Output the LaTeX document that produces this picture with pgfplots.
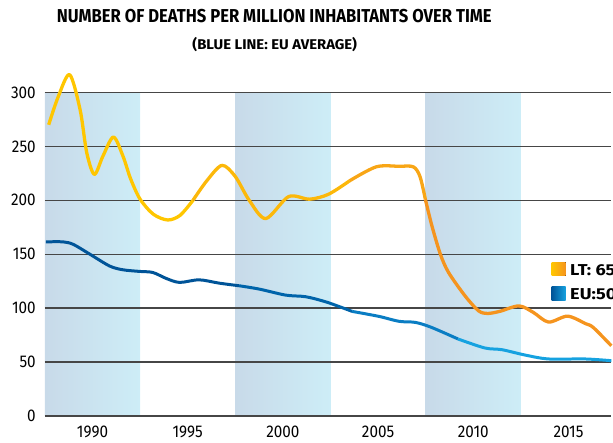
\documentclass[border=0pt]{standalone}
\usepackage{fontspec}
\setmainfont{Fira Sans}
\newfontfamily\tickfont{Fira Sans}[FakeStretch=0.9]
\newfontfamily\legfont{Fira Sans}[FakeStretch=1.15]
\usepackage{graphicx}
\usepackage{pgfplots}
\pgfplotsset{compat=1.18}
\definecolor{LTa}{RGB}{255,198,0}
\definecolor{LTb}{RGB}{252,184,10}
\definecolor{LTc}{RGB}{248,166,22}
\definecolor{LTd}{RGB}{245,148,30}
\definecolor{EUa}{RGB}{0,84,152}
\definecolor{EUb}{RGB}{0,100,170}
\definecolor{EUc}{RGB}{10,125,195}
\definecolor{EUd}{RGB}{22,162,224}
\definecolor{bandL}{RGB}{200,218,233}
\definecolor{bandR}{RGB}{205,237,247}
\definecolor{gridc}{RGB}{70,70,70}
\begin{document}
\begin{tikzpicture}
\begin{axis}[
  at={(0,0)}, anchor=south west,
  scale only axis, width=568bp, height=324.3bp,
  xmin=1987.5, xmax=2017.25, ymin=0, ymax=300,
  xtick={1990,1995,...,2015}, xticklabels={1990,1995,2000,2005,2010,2015},
  ytick={0,50,...,300}, yticklabels={0,50,100,150,200,250,300},
  axis line style={draw=none}, major tick length=0pt,
  ymajorgrids, grid style={gridc, line width=1.3bp},
  tick label style={font=\tickfont\fontsize{17bp}{17bp}\selectfont},
  yticklabel style={anchor=east, inner sep=0pt, xshift=-9bp},
  xticklabel style={anchor=north, inner sep=0pt, yshift=-10bp},
  clip=false, set layers,
  every axis plot/.append style={line cap=butt, line join=round},
]
\begin{pgfonlayer}{axis background}
\fill[left color=bandL, right color=bandR] (axis cs:1987.5,0) rectangle (axis cs:1992.5,300);
\fill[left color=bandL, right color=bandR] (axis cs:1997.5,0) rectangle (axis cs:2002.5,300);
\fill[left color=bandL, right color=bandR] (axis cs:2007.5,0) rectangle (axis cs:2012.5,300);
\end{pgfonlayer}
% EU average
\addplot[EUa, line width=3bp, smooth] coordinates {
(1987.55,161.4) (1988.46,161.4) (1989.0,159) (1989.86,150) (1990.9,139) (1991.6,135.5)
(1992.47,134) (1993.17,133) (1993.87,127.5) (1994.57,123.8) (1995.6,126.2) (1996.66,123.1)
(1997.7,120.7)};
\addplot[EUb, line width=3bp, smooth] coordinates {
(1997.7,120.7) (1998.76,117.6) (2000.15,112) (2001.2,110.5) (2002.3,105.5) (2003.64,96.9)};
\addplot[EUc, line width=3bp, smooth] coordinates {
(2003.64,96.9) (2005.04,92.3) (2006.1,87.7) (2006.96,86.7) (2007.8,82.1) (2009.2,71.3)};
\addplot[EUd, line width=3bp, smooth] coordinates {
(2009.2,71.3) (2010.6,63) (2011.5,61.4) (2012.7,56.5) (2013.94,52.8) (2015.86,52.8) (2017.25,51.2)};
% LT
\addplot[LTa, line width=3.3bp, smooth] coordinates {
(1987.7,270) (1988.2,296) (1988.8,316.5) (1989.35,284) (1989.7,244) (1990.1,224)
(1990.55,241) (1991.1,258.6) (1991.6,241) (1992.0,220) (1992.5,201) (1993.2,187)
(1993.95,181.7) (1994.6,186) (1995.28,200)};
\addplot[LTb, line width=3.3bp, smooth] coordinates {
(1995.28,200) (1996.0,218) (1996.8,232.4) (1997.5,222) (1998.23,200) (1999.1,183)
(2000.3,203.4) (2001.4,201) (2002.4,205.6) (2003.5,218)};
\addplot[LTc, line width=3.3bp, smooth] coordinates {
(2003.5,218) (2004.9,231) (2006.1,231.5) (2006.85,231) (2007.2,222) (2007.48,201)};
\addplot[LTd, line width=3.3bp, smooth] coordinates {
(2007.48,201) (2007.83,176) (2008.27,150) (2008.7,133) (2009.58,111) (2010.28,97.4)
(2010.75,95) (2011.4,97) (2012.4,102) (2013.15,96) (2013.95,87)
(2014.95,92.5) (2015.9,85.5) (2016.3,82) (2017.25,65)};
% legend
\fill[left color=LTa, right color=LTd] (axis cs:2014.11,129.8) rectangle (axis cs:2014.85,142.7);
\fill[left color=EUa, right color=EUd] (axis cs:2014.11,107.3) rectangle (axis cs:2014.85,120);
\node[overlay, anchor=base west, inner sep=0pt] at (axis cs:2015.08,130.4) {\legfont\fontsize{15.8bp}{16bp}\selectfont\bfseries LT: 65};
\node[overlay, anchor=base west, inner sep=0pt] at (axis cs:2015.08,108.2) {\legfont\fontsize{15.8bp}{16bp}\selectfont\bfseries EU:50};
\end{axis}
\node[anchor=base, inner sep=0pt] at (230bp,394bp) {\resizebox*{436bp}{13.6bp}{\bfseries NUMBER OF DEATHS PER MILLION INHABITANTS OVER TIME}};
\node[anchor=base, inner sep=0pt] at (230.5bp,367.7bp) {\resizebox*{165bp}{14.4bp}{\bfseries (BLUE LINE: EU AVERAGE)}};
\useasboundingbox (-45bp,-27bp) rectangle (568bp,417bp);
\end{tikzpicture}
\end{document}
